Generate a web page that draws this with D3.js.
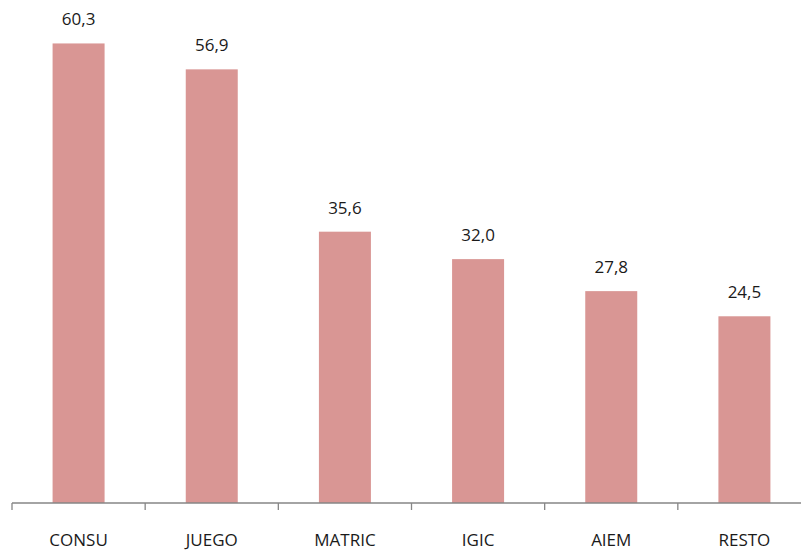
<!DOCTYPE html>
<html>
<head>
<meta charset="utf-8">
<script src="https://cdn.jsdelivr.net/npm/d3@7"></script>
<style>
  body { margin: 0; background: #fff; }
  svg { display: block; }
</style>
</head>
<body>
<svg id="chart" width="801" height="551"></svg>
<script>
const categories = ["CONSU", "JUEGO", "MATRIC", "IGIC", "AIEM", "RESTO"];
const values = [60.3, 56.9, 35.6, 32.0, 27.8, 24.5];

const width = 801, height = 551;
const margin = {top: 0, right: -10, bottom: 48, left: 12};

const svg = d3.select("#chart");

const xScale = d3.scaleBand()
    .domain(categories)
    .range([margin.left, width - margin.right])
    .paddingInner(0)
    .paddingOuter(0);

const yScale = d3.scaleLinear()
    .domain([0, 66])
    .range([height - margin.bottom, 0]);

const barW = 52;
const fmt = v => v.toFixed(1).replace(".", ",");

// bars
svg.selectAll(".bar")
    .data(values)
    .join("rect")
    .attr("class", "bar")
    .attr("x", (d, i) => xScale(categories[i]) + xScale.bandwidth() / 2 - barW / 2)
    .attr("y", d => yScale(d))
    .attr("width", barW)
    .attr("height", d => yScale(0) - yScale(d))
    .attr("fill", "#d99694");

// value labels
svg.selectAll(".val")
    .data(values)
    .join("text")
    .attr("class", "val")
    .attr("x", (d, i) => xScale(categories[i]) + xScale.bandwidth() / 2)
    .attr("y", d => yScale(d) - 18)
    .attr("text-anchor", "middle")
    .style("font-family", "'Open Sans', sans-serif")
    .style("font-size", "17px")
    .attr("fill", "#1a1a1a")
    .text(fmt);

// x axis
const xAxis = svg.append("g")
    .attr("transform", `translate(0, ${yScale(0)})`);
xAxis.append("line")
    .attr("x1", margin.left).attr("x2", width)
    .attr("stroke", "#868686").attr("stroke-width", 1.3);
xAxis.selectAll(".tick")
    .data(categories)
    .join("line")
    .attr("x1", d => xScale(d)).attr("x2", d => xScale(d))
    .attr("y1", 0).attr("y2", 7)
    .attr("stroke", "#868686").attr("stroke-width", 1.3);

xAxis.selectAll(".lab")
    .data(categories)
    .join("text")
    .attr("class", "lab")
    .attr("x", d => xScale(d) + xScale.bandwidth() / 2)
    .attr("y", 43)
    .attr("text-anchor", "middle")
    .style("font-family", "'Open Sans', sans-serif")
    .style("font-size", "17px")
    .attr("fill", "#1a1a1a")
    .text(d => d);
</script>
</body>
</html>
